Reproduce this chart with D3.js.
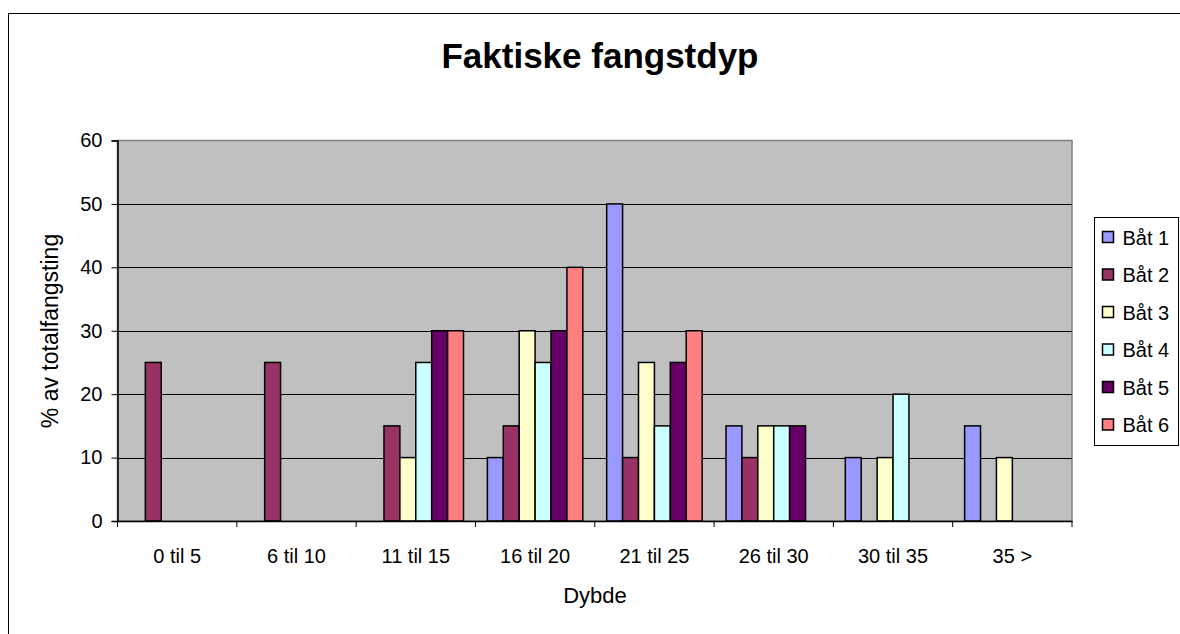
<!DOCTYPE html>
<html>
<head>
<meta charset="utf-8">
<script src="https://cdn.jsdelivr.net/npm/d3@7"></script>
<style>
    body { margin: 0; background: #fff; }
    text { font-family: Arial, "Liberation Sans", sans-serif; fill: #000; }
</style>
</head>
<body>
<div id="vis"></div>
<script>
// fangstdyp per båt
var categories = ['0 til 5', '6 til 10', '11 til 15', '16 til 20', '21 til 25', '26 til 30', '30 til 35', '35 >'];
var boats = ['Båt 1', 'Båt 2', 'Båt 3', 'Båt 4', 'Båt 5', 'Båt 6'];
var bat1 = [0, 0, 0, 10, 50, 15, 10, 15];
var bat2 = [25, 25, 15, 15, 10, 10, 0, 0];
var bat3 = [0, 0, 10, 30, 25, 15, 10, 10];
var bat4 = [0, 0, 25, 25, 15, 15, 20, 0];
var bat5 = [0, 0, 30, 30, 25, 15, 0, 0];
var bat6 = [0, 0, 30, 40, 30, 0, 0, 0];
var yTicks = [0, 10, 20, 30, 40, 50, 60];
var colors = ['#9999ff', '#993366', '#ffffcc', '#ccffff', '#660066', '#ff8080'];

(function() {
    var series = [bat1, bat2, bat3, bat4, bat5, bat6];

    var svg = d3.select('#vis')
        .append('svg')
        .attr('width', 1180)
        .attr('height', 634);

    var plot = { left: 117.5, right: 1072, top: 140.5, bottom: 521 };

    // ytre ramme
    svg.append('rect')
        .attr('x', 8.5)
        .attr('y', 13.5)
        .attr('width', 1300)
        .attr('height', 800)
        .attr('fill', 'none')
        .attr('stroke', '#000');

    var xScale = d3.scaleBand()
        .domain(categories)
        .range([plot.left, plot.right])
        .paddingInner(0)
        .paddingOuter(0);

    var xInner = d3.scaleBand()
        .domain(d3.range(boats.length))
        .range([0, xScale.bandwidth()])
        .paddingInner(0)
        .paddingOuter(0.75);

    var yScale = d3.scaleLinear()
        .domain([0, 60])
        .range([plot.bottom, plot.top]);

    svg.append('rect')
        .attr('x', plot.left)
        .attr('y', plot.top)
        .attr('width', plot.right - plot.left)
        .attr('height', plot.bottom - plot.top)
        .attr('fill', '#c0c0c0')
        .attr('stroke', '#808080')
        .attr('stroke-width', 1.5);

    // rutenett
    svg.append('g').selectAll('line')
        .data(yTicks.slice(1, -1))
        .enter().append('line')
        .attr('x1', plot.left)
        .attr('x2', plot.right)
        .attr('y1', function(d) { return Math.round(yScale(d)) + 0.5; })
        .attr('y2', function(d) { return Math.round(yScale(d)) + 0.5; })
        .attr('stroke', '#000')
        .attr('stroke-width', 1);

    var groups = svg.append('g').selectAll('g')
        .data(categories)
        .enter().append('g')
        .attr('transform', function(d) { return 'translate(' + xScale(d) + ',0)'; });

    groups.selectAll('rect')
        .data(function(d, i) {
            return series.map(function(s, j) { return { boat: j, value: s[i] }; })
                .filter(function(e) { return e.value > 0; });
        })
        .enter().append('rect')
        .attr('x', function(d) { return xInner(d.boat); })
        .attr('y', function(d) { return yScale(d.value); })
        .attr('width', xInner.bandwidth())
        .attr('height', function(d) { return plot.bottom - yScale(d.value); })
        .attr('fill', function(d) { return colors[d.boat]; })
        .attr('stroke', '#000')
        .attr('stroke-width', 1.5);

    // akser
    var yAxis = d3.axisLeft(yScale)
        .tickValues(yTicks)
        .tickSize(6)
        .tickPadding(9);

    var gy = svg.append('g')
        .attr('transform', 'translate(' + plot.left + ',0)')
        .call(yAxis);
    gy.selectAll('text').style('font-size', '20px');
    gy.select('.domain').attr('stroke', '#000').attr('stroke-width', 1.5);

    var xAxis = d3.axisBottom(xScale)
        .tickSize(0)
        .tickPadding(28);

    var gx = svg.append('g')
        .attr('transform', 'translate(0,' + plot.bottom + ')')
        .call(xAxis);
    gx.selectAll('text').style('font-size', '20px');
    gx.select('.domain').attr('stroke', '#000').attr('stroke-width', 1.5);

    gx.append('g').selectAll('line')
        .data(categories.map(function(c) { return xScale(c); }).concat([plot.right]))
        .enter().append('line')
        .attr('x1', function(d) { return d; })
        .attr('x2', function(d) { return d; })
        .attr('y1', 0)
        .attr('y2', 6)
        .attr('stroke', '#000');

    svg.append('text')
        .attr('x', 600)
        .attr('y', 68)
        .style('text-anchor', 'middle')
        .style('font-size', '35px')
        .style('font-weight', 'bold')
        .text('Faktiske fangstdyp');

    svg.append('text')
        .attr('x', 595)
        .attr('y', 603)
        .style('text-anchor', 'middle')
        .style('font-size', '22px')
        .text('Dybde');

    svg.append('text')
        .attr('transform', 'translate(58,331)rotate(-90)')
        .style('text-anchor', 'middle')
        .style('font-size', '23px')
        .text('% av totalfangsting');

    // tegnforklaring
    var legend = svg.append('g')
        .attr('transform', 'translate(1094.5,217.5)');

    legend.append('rect')
        .attr('width', 84)
        .attr('height', 228)
        .attr('fill', '#fff')
        .attr('stroke', '#000');

    var items = legend.selectAll('.item')
        .data(boats)
        .enter().append('g')
        .attr('class', 'item')
        .attr('transform', function(d, i) { return 'translate(0,' + (20 + i * 37.5) + ')'; });

    items.append('rect')
        .attr('x', 8)
        .attr('y', -6)
        .attr('width', 11)
        .attr('height', 11)
        .attr('fill', function(d, i) { return colors[i]; })
        .attr('stroke', '#000')
        .attr('stroke-width', 1.5);

    items.append('text')
        .attr('x', 28)
        .attr('dy', '0.35em')
        .style('font-size', '20px')
        .text(function(d) { return d; });
})();
</script>
</body>
</html>
